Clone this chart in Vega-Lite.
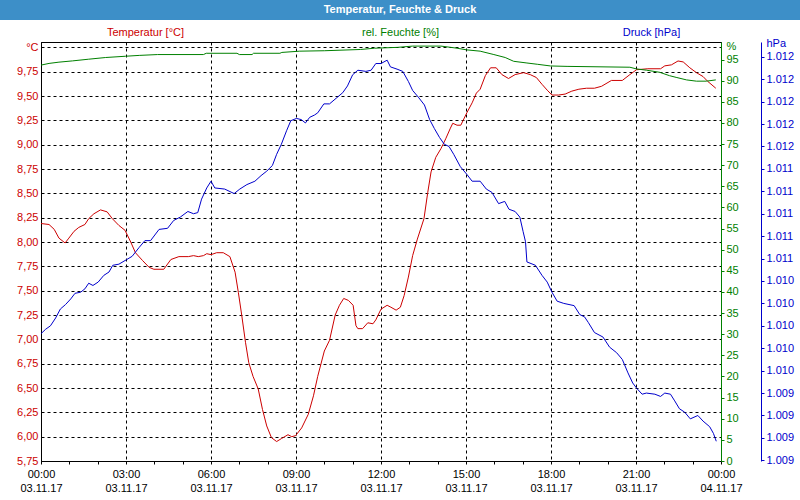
{
  "$schema": "https://vega.github.io/schema/vega-lite/v6.json",
  "padding": 0,
  "background": "white",
  "spacing": 5,
  "config": {"font": "Liberation Sans", "view": {"stroke": null}},
  "datasets": {
    "temp": [
      {"t": "2017-11-03T00:00", "v": 8.19}, {"t": "2017-11-03T00:17", "v": 8.18}, {"t": "2017-11-03T00:28", "v": 8.13},
      {"t": "2017-11-03T00:38", "v": 8.04}, {"t": "2017-11-03T00:51", "v": 7.99}, {"t": "2017-11-03T00:59", "v": 8.04},
      {"t": "2017-11-03T01:10", "v": 8.11}, {"t": "2017-11-03T01:20", "v": 8.15}, {"t": "2017-11-03T01:33", "v": 8.18},
      {"t": "2017-11-03T01:41", "v": 8.24}, {"t": "2017-11-03T01:52", "v": 8.29}, {"t": "2017-11-03T02:06", "v": 8.33},
      {"t": "2017-11-03T02:20", "v": 8.31}, {"t": "2017-11-03T02:31", "v": 8.24}, {"t": "2017-11-03T02:45", "v": 8.17},
      {"t": "2017-11-03T02:58", "v": 8.12}, {"t": "2017-11-03T03:10", "v": 8.0}, {"t": "2017-11-03T03:20", "v": 7.89},
      {"t": "2017-11-03T03:35", "v": 7.81}, {"t": "2017-11-03T03:49", "v": 7.74}, {"t": "2017-11-03T03:59", "v": 7.72},
      {"t": "2017-11-03T04:20", "v": 7.72}, {"t": "2017-11-03T04:35", "v": 7.82}, {"t": "2017-11-03T04:52", "v": 7.85},
      {"t": "2017-11-03T05:12", "v": 7.85}, {"t": "2017-11-03T05:23", "v": 7.86}, {"t": "2017-11-03T05:33", "v": 7.85},
      {"t": "2017-11-03T05:44", "v": 7.86}, {"t": "2017-11-03T05:51", "v": 7.88}, {"t": "2017-11-03T06:00", "v": 7.87},
      {"t": "2017-11-03T06:12", "v": 7.89}, {"t": "2017-11-03T06:26", "v": 7.89}, {"t": "2017-11-03T06:40", "v": 7.85},
      {"t": "2017-11-03T06:51", "v": 7.69}, {"t": "2017-11-03T06:58", "v": 7.48}, {"t": "2017-11-03T07:05", "v": 7.25},
      {"t": "2017-11-03T07:13", "v": 6.97}, {"t": "2017-11-03T07:20", "v": 6.76}, {"t": "2017-11-03T07:29", "v": 6.62},
      {"t": "2017-11-03T07:40", "v": 6.49}, {"t": "2017-11-03T07:49", "v": 6.28}, {"t": "2017-11-03T07:58", "v": 6.11},
      {"t": "2017-11-03T08:08", "v": 5.99}, {"t": "2017-11-03T08:19", "v": 5.95}, {"t": "2017-11-03T08:29", "v": 5.98},
      {"t": "2017-11-03T08:43", "v": 6.02}, {"t": "2017-11-03T08:51", "v": 6.0}, {"t": "2017-11-03T08:59", "v": 6.01},
      {"t": "2017-11-03T09:12", "v": 6.09}, {"t": "2017-11-03T09:26", "v": 6.23}, {"t": "2017-11-03T09:37", "v": 6.42},
      {"t": "2017-11-03T09:46", "v": 6.62}, {"t": "2017-11-03T10:00", "v": 6.88}, {"t": "2017-11-03T10:11", "v": 6.99},
      {"t": "2017-11-03T10:23", "v": 7.25}, {"t": "2017-11-03T10:32", "v": 7.35}, {"t": "2017-11-03T10:41", "v": 7.42},
      {"t": "2017-11-03T10:51", "v": 7.4}, {"t": "2017-11-03T11:01", "v": 7.35}, {"t": "2017-11-03T11:07", "v": 7.14},
      {"t": "2017-11-03T11:11", "v": 7.11}, {"t": "2017-11-03T11:21", "v": 7.11}, {"t": "2017-11-03T11:32", "v": 7.17},
      {"t": "2017-11-03T11:43", "v": 7.16}, {"t": "2017-11-03T11:49", "v": 7.2}, {"t": "2017-11-03T12:00", "v": 7.31},
      {"t": "2017-11-03T12:13", "v": 7.35}, {"t": "2017-11-03T12:21", "v": 7.33}, {"t": "2017-11-03T12:32", "v": 7.3},
      {"t": "2017-11-03T12:41", "v": 7.33}, {"t": "2017-11-03T12:49", "v": 7.45}, {"t": "2017-11-03T12:58", "v": 7.64},
      {"t": "2017-11-03T13:07", "v": 7.86}, {"t": "2017-11-03T13:17", "v": 8.03}, {"t": "2017-11-03T13:31", "v": 8.24},
      {"t": "2017-11-03T13:39", "v": 8.51}, {"t": "2017-11-03T13:46", "v": 8.72}, {"t": "2017-11-03T13:56", "v": 8.87},
      {"t": "2017-11-03T14:07", "v": 8.96}, {"t": "2017-11-03T14:17", "v": 9.06}, {"t": "2017-11-03T14:27", "v": 9.17},
      {"t": "2017-11-03T14:32", "v": 9.22}, {"t": "2017-11-03T14:41", "v": 9.2}, {"t": "2017-11-03T14:49", "v": 9.2},
      {"t": "2017-11-03T15:02", "v": 9.33}, {"t": "2017-11-03T15:13", "v": 9.43}, {"t": "2017-11-03T15:22", "v": 9.53},
      {"t": "2017-11-03T15:30", "v": 9.57}, {"t": "2017-11-03T15:41", "v": 9.71}, {"t": "2017-11-03T15:52", "v": 9.79},
      {"t": "2017-11-03T16:04", "v": 9.79}, {"t": "2017-11-03T16:16", "v": 9.72}, {"t": "2017-11-03T16:30", "v": 9.68},
      {"t": "2017-11-03T16:44", "v": 9.72}, {"t": "2017-11-03T17:02", "v": 9.74}, {"t": "2017-11-03T17:16", "v": 9.72},
      {"t": "2017-11-03T17:29", "v": 9.69}, {"t": "2017-11-03T17:41", "v": 9.62}, {"t": "2017-11-03T17:52", "v": 9.56},
      {"t": "2017-11-03T18:02", "v": 9.51}, {"t": "2017-11-03T18:16", "v": 9.51}, {"t": "2017-11-03T18:30", "v": 9.52},
      {"t": "2017-11-03T18:44", "v": 9.55}, {"t": "2017-11-03T18:59", "v": 9.57}, {"t": "2017-11-03T19:15", "v": 9.58},
      {"t": "2017-11-03T19:32", "v": 9.58}, {"t": "2017-11-03T19:47", "v": 9.6}, {"t": "2017-11-03T20:08", "v": 9.66},
      {"t": "2017-11-03T20:31", "v": 9.66}, {"t": "2017-11-03T20:47", "v": 9.72}, {"t": "2017-11-03T21:01", "v": 9.77},
      {"t": "2017-11-03T21:25", "v": 9.78}, {"t": "2017-11-03T21:52", "v": 9.78}, {"t": "2017-11-03T22:01", "v": 9.81},
      {"t": "2017-11-03T22:15", "v": 9.82}, {"t": "2017-11-03T22:29", "v": 9.86}, {"t": "2017-11-03T22:40", "v": 9.85},
      {"t": "2017-11-03T22:54", "v": 9.79}, {"t": "2017-11-03T23:08", "v": 9.74}, {"t": "2017-11-03T23:22", "v": 9.7},
      {"t": "2017-11-03T23:32", "v": 9.65}, {"t": "2017-11-03T23:49", "v": 9.58}
    ],
    "hum": [
      {"t": "2017-11-03T00:00", "v": 93.7}, {"t": "2017-11-03T00:17", "v": 94.1}, {"t": "2017-11-03T00:38", "v": 94.4},
      {"t": "2017-11-03T01:07", "v": 94.7}, {"t": "2017-11-03T01:41", "v": 95.1}, {"t": "2017-11-03T02:17", "v": 95.5},
      {"t": "2017-11-03T02:59", "v": 95.8}, {"t": "2017-11-03T03:28", "v": 96.0}, {"t": "2017-11-03T04:07", "v": 96.2},
      {"t": "2017-11-03T05:44", "v": 96.2}, {"t": "2017-11-03T05:50", "v": 96.5}, {"t": "2017-11-03T06:55", "v": 96.5},
      {"t": "2017-11-03T07:00", "v": 96.2}, {"t": "2017-11-03T07:27", "v": 96.2}, {"t": "2017-11-03T07:30", "v": 96.5},
      {"t": "2017-11-03T08:26", "v": 96.5}, {"t": "2017-11-03T08:30", "v": 96.7}, {"t": "2017-11-03T09:08", "v": 97.0},
      {"t": "2017-11-03T10:00", "v": 97.1}, {"t": "2017-11-03T11:17", "v": 97.4}, {"t": "2017-11-03T11:46", "v": 97.7},
      {"t": "2017-11-03T12:35", "v": 97.9}, {"t": "2017-11-03T13:07", "v": 98.2}, {"t": "2017-11-03T14:07", "v": 98.2},
      {"t": "2017-11-03T14:28", "v": 97.9}, {"t": "2017-11-03T14:41", "v": 97.7}, {"t": "2017-11-03T15:02", "v": 97.3},
      {"t": "2017-11-03T15:30", "v": 97.0}, {"t": "2017-11-03T15:59", "v": 96.2}, {"t": "2017-11-03T16:23", "v": 95.5},
      {"t": "2017-11-03T16:41", "v": 94.6}, {"t": "2017-11-03T17:09", "v": 94.2}, {"t": "2017-11-03T17:31", "v": 93.9},
      {"t": "2017-11-03T17:59", "v": 93.5}, {"t": "2017-11-03T18:34", "v": 93.4}, {"t": "2017-11-03T20:47", "v": 93.2},
      {"t": "2017-11-03T21:01", "v": 92.8}, {"t": "2017-11-03T21:22", "v": 92.5}, {"t": "2017-11-03T21:50", "v": 92.0},
      {"t": "2017-11-03T22:11", "v": 91.2}, {"t": "2017-11-03T22:25", "v": 90.8}, {"t": "2017-11-03T22:47", "v": 90.2},
      {"t": "2017-11-03T23:08", "v": 89.9}, {"t": "2017-11-03T23:29", "v": 89.9}, {"t": "2017-11-03T23:49", "v": 90.2}
    ],
    "pres": [
      {"t": "2017-11-03T00:00", "v": 1009.93}, {"t": "2017-11-03T00:10", "v": 1009.97}, {"t": "2017-11-03T00:20", "v": 1010.0},
      {"t": "2017-11-03T00:31", "v": 1010.07}, {"t": "2017-11-03T00:41", "v": 1010.15}, {"t": "2017-11-03T00:52", "v": 1010.19},
      {"t": "2017-11-03T01:03", "v": 1010.24}, {"t": "2017-11-03T01:12", "v": 1010.29}, {"t": "2017-11-03T01:24", "v": 1010.3},
      {"t": "2017-11-03T01:33", "v": 1010.33}, {"t": "2017-11-03T01:41", "v": 1010.38}, {"t": "2017-11-03T01:50", "v": 1010.36},
      {"t": "2017-11-03T02:01", "v": 1010.39}, {"t": "2017-11-03T02:13", "v": 1010.45}, {"t": "2017-11-03T02:24", "v": 1010.48},
      {"t": "2017-11-03T02:32", "v": 1010.54}, {"t": "2017-11-03T02:45", "v": 1010.55}, {"t": "2017-11-03T03:01", "v": 1010.59},
      {"t": "2017-11-03T03:13", "v": 1010.62}, {"t": "2017-11-03T03:28", "v": 1010.7}, {"t": "2017-11-03T03:40", "v": 1010.76},
      {"t": "2017-11-03T03:52", "v": 1010.76}, {"t": "2017-11-03T04:10", "v": 1010.86}, {"t": "2017-11-03T04:28", "v": 1010.87},
      {"t": "2017-11-03T04:41", "v": 1010.94}, {"t": "2017-11-03T04:55", "v": 1010.97}, {"t": "2017-11-03T05:11", "v": 1011.02},
      {"t": "2017-11-03T05:23", "v": 1011.0}, {"t": "2017-11-03T05:32", "v": 1011.01}, {"t": "2017-11-03T05:40", "v": 1011.13},
      {"t": "2017-11-03T05:51", "v": 1011.23}, {"t": "2017-11-03T06:00", "v": 1011.29}, {"t": "2017-11-03T06:08", "v": 1011.23},
      {"t": "2017-11-03T06:29", "v": 1011.22}, {"t": "2017-11-03T06:49", "v": 1011.18}, {"t": "2017-11-03T07:01", "v": 1011.22},
      {"t": "2017-11-03T07:16", "v": 1011.26}, {"t": "2017-11-03T07:33", "v": 1011.29}, {"t": "2017-11-03T07:46", "v": 1011.34},
      {"t": "2017-11-03T07:58", "v": 1011.38}, {"t": "2017-11-03T08:10", "v": 1011.43}, {"t": "2017-11-03T08:19", "v": 1011.53},
      {"t": "2017-11-03T08:29", "v": 1011.62}, {"t": "2017-11-03T08:40", "v": 1011.74}, {"t": "2017-11-03T08:49", "v": 1011.83},
      {"t": "2017-11-03T09:01", "v": 1011.85}, {"t": "2017-11-03T09:11", "v": 1011.84}, {"t": "2017-11-03T09:20", "v": 1011.81},
      {"t": "2017-11-03T09:29", "v": 1011.86}, {"t": "2017-11-03T09:39", "v": 1011.88}, {"t": "2017-11-03T09:46", "v": 1011.9},
      {"t": "2017-11-03T09:59", "v": 1011.98}, {"t": "2017-11-03T10:11", "v": 1011.98}, {"t": "2017-11-03T10:25", "v": 1012.03},
      {"t": "2017-11-03T10:39", "v": 1012.08}, {"t": "2017-11-03T10:49", "v": 1012.14}, {"t": "2017-11-03T11:00", "v": 1012.24},
      {"t": "2017-11-03T11:11", "v": 1012.28}, {"t": "2017-11-03T11:28", "v": 1012.27}, {"t": "2017-11-03T11:39", "v": 1012.28},
      {"t": "2017-11-03T11:49", "v": 1012.34}, {"t": "2017-11-03T12:00", "v": 1012.34}, {"t": "2017-11-03T12:13", "v": 1012.37},
      {"t": "2017-11-03T12:20", "v": 1012.31}, {"t": "2017-11-03T12:34", "v": 1012.29}, {"t": "2017-11-03T12:46", "v": 1012.27},
      {"t": "2017-11-03T12:58", "v": 1012.18}, {"t": "2017-11-03T13:07", "v": 1012.1}, {"t": "2017-11-03T13:19", "v": 1012.04},
      {"t": "2017-11-03T13:32", "v": 1011.97}, {"t": "2017-11-03T13:43", "v": 1011.84}, {"t": "2017-11-03T13:53", "v": 1011.76},
      {"t": "2017-11-03T14:04", "v": 1011.68}, {"t": "2017-11-03T14:14", "v": 1011.62}, {"t": "2017-11-03T14:24", "v": 1011.6},
      {"t": "2017-11-03T14:34", "v": 1011.53}, {"t": "2017-11-03T14:48", "v": 1011.42}, {"t": "2017-11-03T15:02", "v": 1011.35},
      {"t": "2017-11-03T15:13", "v": 1011.29}, {"t": "2017-11-03T15:30", "v": 1011.29}, {"t": "2017-11-03T15:43", "v": 1011.22},
      {"t": "2017-11-03T15:55", "v": 1011.19}, {"t": "2017-11-03T16:09", "v": 1011.09}, {"t": "2017-11-03T16:22", "v": 1011.11},
      {"t": "2017-11-03T16:31", "v": 1011.04}, {"t": "2017-11-03T16:44", "v": 1011.02}, {"t": "2017-11-03T16:54", "v": 1010.97},
      {"t": "2017-11-03T17:01", "v": 1010.84}, {"t": "2017-11-03T17:06", "v": 1010.75}, {"t": "2017-11-03T17:09", "v": 1010.57},
      {"t": "2017-11-03T17:27", "v": 1010.54}, {"t": "2017-11-03T17:41", "v": 1010.45}, {"t": "2017-11-03T17:52", "v": 1010.39},
      {"t": "2017-11-03T18:02", "v": 1010.3}, {"t": "2017-11-03T18:13", "v": 1010.22}, {"t": "2017-11-03T18:27", "v": 1010.2},
      {"t": "2017-11-03T18:49", "v": 1010.18}, {"t": "2017-11-03T19:01", "v": 1010.1}, {"t": "2017-11-03T19:11", "v": 1010.08},
      {"t": "2017-11-03T19:19", "v": 1010.03}, {"t": "2017-11-03T19:32", "v": 1009.94}, {"t": "2017-11-03T19:50", "v": 1009.9},
      {"t": "2017-11-03T20:04", "v": 1009.81}, {"t": "2017-11-03T20:19", "v": 1009.76}, {"t": "2017-11-03T20:31", "v": 1009.7},
      {"t": "2017-11-03T20:43", "v": 1009.58}, {"t": "2017-11-03T20:53", "v": 1009.49}, {"t": "2017-11-03T21:02", "v": 1009.44},
      {"t": "2017-11-03T21:13", "v": 1009.39}, {"t": "2017-11-03T21:22", "v": 1009.4}, {"t": "2017-11-03T21:40", "v": 1009.39},
      {"t": "2017-11-03T21:52", "v": 1009.37}, {"t": "2017-11-03T22:01", "v": 1009.4}, {"t": "2017-11-03T22:13", "v": 1009.39},
      {"t": "2017-11-03T22:22", "v": 1009.33}, {"t": "2017-11-03T22:32", "v": 1009.26}, {"t": "2017-11-03T22:43", "v": 1009.23},
      {"t": "2017-11-03T22:55", "v": 1009.17}, {"t": "2017-11-03T23:11", "v": 1009.2}, {"t": "2017-11-03T23:22", "v": 1009.15},
      {"t": "2017-11-03T23:36", "v": 1009.1}, {"t": "2017-11-03T23:44", "v": 1009.04}, {"t": "2017-11-03T23:50", "v": 1008.97}
    ]
  },
  "vconcat": [
    {
      "width": 800,
      "height": 20,
      "view": {"fill": "#3d8fc8", "stroke": null},
      "data": {"values": [{"label": "Temperatur, Feuchte & Druck"}]},
      "mark": {"type": "text", "color": "white", "fontWeight": "bold", "fontSize": 11},
      "encoding": {"text": {"field": "label", "type": "nominal"}}
    },
    {
      "spacing": 0,
      "hconcat": [
        {
          "width": 1,
          "height": 419,
          "data": {"values": [{"label": ""}]},
          "mark": {"type": "text", "opacity": 0},
          "encoding": {"text": {"field": "label", "type": "nominal"}}
        },
        {
          "width": 680,
          "height": 419,
          "view": {"stroke": "black", "strokeWidth": 1, "fill": "white"},
          "resolve": {
            "scale": {"y": "independent"},
            "axis": {"x": "independent", "y": "independent"}
          },
          "layer": [
            {
              "data": {"name": "temp"},
              "mark": {"type": "line", "color": "#cc0000", "strokeWidth": 1},
              "encoding": {
                "x": {
                  "field": "t", "type": "temporal",
                  "scale": {"domain": [{"year": 2017, "month": 11, "date": 3, "hours": 0}, {"year": 2017, "month": 11, "date": 4, "hours": 0}]},
                  "axis": {
                    "orient": "bottom", "title": null,
                    "values": [
                      {"year": 2017, "month": 11, "date": 3, "hours": 0}, {"year": 2017, "month": 11, "date": 3, "hours": 3},
                      {"year": 2017, "month": 11, "date": 3, "hours": 6}, {"year": 2017, "month": 11, "date": 3, "hours": 9},
                      {"year": 2017, "month": 11, "date": 3, "hours": 12}, {"year": 2017, "month": 11, "date": 3, "hours": 15},
                      {"year": 2017, "month": 11, "date": 3, "hours": 18}, {"year": 2017, "month": 11, "date": 3, "hours": 21},
                      {"year": 2017, "month": 11, "date": 4, "hours": 0}
                    ],
                    "format": "%H:%M",
                    "labelFlush": false, "labelOverlap": false, "labelColor": "black",
                    "labelFontSize": 11, "labelPadding": 4,
                    "ticks": true, "tickSize": 3, "tickColor": "black",
                    "domainColor": "black",
                    "grid": true, "gridColor": "black", "gridDash": [3, 3], "gridOpacity": 1, "gridWidth": 1
                  }
                },
                "y": {
                  "field": "v", "type": "quantitative",
                  "scale": {"domain": [5.75, 10.055], "nice": false, "zero": false},
                  "axis": {
                    "orient": "left",
                    "values": [5.75, 6, 6.25, 6.5, 6.75, 7, 7.25, 7.5, 7.75, 8, 8.25, 8.5, 8.75, 9, 9.25, 9.5, 9.75, 10],
                    "labelExpr": "datum.value > 9.99 ? '°C' : replace(format(datum.value, '.2f'), '.', ',')",
                    "labelColor": "#cc0000", "labelFontSize": 11, "labelPadding": 3, "labelOverlap": false,
                    "ticks": false, "domainColor": "black",
                    "grid": true, "gridColor": "black", "gridDash": [3, 3], "gridOpacity": 1, "gridWidth": 1,
                    "minExtent": 39, "maxExtent": 39,
                    "title": "Temperatur [°C]", "titleAngle": 0, "titleX": 104, "titleY": -10,
                    "titleAlign": "center", "titleBaseline": "middle",
                    "titleColor": "#cc0000", "titleFontWeight": "normal", "titleFontSize": 11
                  }
                }
              }
            },
            {
              "data": {"name": "hum"},
              "mark": {"type": "line", "color": "#008000", "strokeWidth": 1},
              "encoding": {
                "x": {
                  "field": "t", "type": "temporal",
                  "axis": {
                    "orient": "bottom", "title": null,
                    "values": [
                      {"year": 2017, "month": 11, "date": 3, "hours": 1}, {"year": 2017, "month": 11, "date": 3, "hours": 2},
                      {"year": 2017, "month": 11, "date": 3, "hours": 4}, {"year": 2017, "month": 11, "date": 3, "hours": 5},
                      {"year": 2017, "month": 11, "date": 3, "hours": 7}, {"year": 2017, "month": 11, "date": 3, "hours": 8},
                      {"year": 2017, "month": 11, "date": 3, "hours": 10}, {"year": 2017, "month": 11, "date": 3, "hours": 11},
                      {"year": 2017, "month": 11, "date": 3, "hours": 13}, {"year": 2017, "month": 11, "date": 3, "hours": 14},
                      {"year": 2017, "month": 11, "date": 3, "hours": 16}, {"year": 2017, "month": 11, "date": 3, "hours": 17},
                      {"year": 2017, "month": 11, "date": 3, "hours": 19}, {"year": 2017, "month": 11, "date": 3, "hours": 20},
                      {"year": 2017, "month": 11, "date": 3, "hours": 22}, {"year": 2017, "month": 11, "date": 3, "hours": 23}
                    ],
                    "labels": false, "domain": false, "grid": false,
                    "ticks": true, "tickSize": 3, "tickColor": "black"
                  }
                },
                "y": {
                  "field": "v", "type": "quantitative",
                  "scale": {"domain": [0, 99.17], "nice": false, "zero": false},
                  "axis": {
                    "orient": "right",
                    "values": [0, 5, 10, 15, 20, 25, 30, 35, 40, 45, 50, 55, 60, 65, 70, 75, 80, 85, 90, 95, 98],
                    "labelExpr": "datum.value > 96 ? '%' : format(datum.value, 'd')",
                    "labelColor": "#008000", "labelFontSize": 11, "labelPadding": 2, "labelOverlap": false,
                    "ticks": true, "tickSize": 3, "tickColor": "#008000",
                    "tickOpacity": {"condition": {"test": "datum.value > 96", "value": 0}, "value": 1},
                    "domainColor": "#008000", "grid": false,
                    "title": "rel. Feuchte [%]", "titleAngle": 0, "titleX": -321, "titleY": -10,
                    "titleAlign": "center", "titleBaseline": "middle",
                    "titleColor": "#008000", "titleFontWeight": "normal", "titleFontSize": 11
                  }
                }
              }
            },
            {
              "data": {"name": "pres"},
              "mark": {"type": "line", "color": "#0000cc", "strokeWidth": 1},
              "encoding": {
                "x": {
                  "field": "t", "type": "temporal",
                  "axis": {
                    "orient": "bottom", "title": null,
                    "values": [
                      {"year": 2017, "month": 11, "date": 3, "hours": 0}, {"year": 2017, "month": 11, "date": 3, "hours": 3},
                      {"year": 2017, "month": 11, "date": 3, "hours": 6}, {"year": 2017, "month": 11, "date": 3, "hours": 9},
                      {"year": 2017, "month": 11, "date": 3, "hours": 12}, {"year": 2017, "month": 11, "date": 3, "hours": 15},
                      {"year": 2017, "month": 11, "date": 3, "hours": 18}, {"year": 2017, "month": 11, "date": 3, "hours": 21},
                      {"year": 2017, "month": 11, "date": 4, "hours": 0}
                    ],
                    "format": "%d.%m.%y",
                    "labelFlush": false, "labelOverlap": false, "labelColor": "black",
                    "labelFontSize": 11, "labelPadding": 21,
                    "ticks": false, "domain": false, "grid": false
                  }
                },
                "y": {
                  "field": "v", "type": "quantitative",
                  "scale": {"domain": [1008.794, 1012.532], "nice": false, "zero": false},
                  "axis": {
                    "orient": "right", "offset": 40,
                    "values": [1008.8, 1009, 1009.2, 1009.4, 1009.6, 1009.8, 1010, 1010.2, 1010.4, 1010.6, 1010.8, 1011, 1011.2, 1011.4, 1011.6, 1011.8, 1012, 1012.2, 1012.4, 1012.52],
                    "labelExpr": "datum.value > 1012.45 ? 'hPa' : format(datum.value / 1000, '.3f')",
                    "labelColor": "#0000cc", "labelFontSize": 11, "labelPadding": 2, "labelOverlap": false,
                    "ticks": true, "tickSize": 3, "tickColor": "#0000cc",
                    "tickOpacity": {"condition": {"test": "datum.value > 1012.45", "value": 0}, "value": 1},
                    "domainColor": "#0000cc", "grid": false,
                    "title": "Druck [hPa]", "titleAngle": 0, "titleX": -110, "titleY": -10,
                    "titleAlign": "center", "titleBaseline": "middle",
                    "titleColor": "#0000cc", "titleFontWeight": "normal", "titleFontSize": 11
                  }
                }
              }
            }
          ]
        }
      ]
    }
  ]
}
